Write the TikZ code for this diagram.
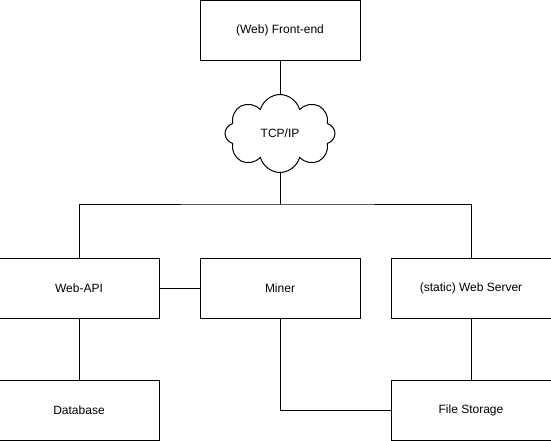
\documentclass[tikz,border=0pt]{standalone}
\usepackage{fontspec}
\setmainfont{Liberation Sans}
\usetikzlibrary{positioning,shapes.symbols}

\tikzset{
  box/.style={draw, line width=1pt, minimum width=160pt, minimum height=60pt,
    inner sep=0pt, font=\fontsize{12}{14}\selectfont},
  net/.style={draw, line width=1pt, cloud, cloud puffs=8, aspect=1.5,
    minimum width=110pt, minimum height=78pt, inner sep=0pt,
    font=\fontsize{12}{14}\selectfont},
  wire/.style={line width=1pt}
}

\begin{document}
\begin{tikzpicture}
    \useasboundingbox (0,0) rectangle (551pt,-440pt);
    \node[box] (front) at (280pt,-30.5pt) {(Web) Front-end};
    \node[net, below=33pt of front] (tcp) {TCP/IP};
    \node[box] (miner) at (280pt,-288pt) {Miner};
    \node[box, left=40pt of miner] (webapi) {Web-API};
    \node[box, right=30pt of miner] (websrv) {(static) Web Server};
    \node[box, below=61pt of webapi] (db) {Database};
    \node[box, below=61pt of websrv] (files) {File Storage};
    \coordinate (bus) at (280pt,-204pt);

    \draw[wire] (front) -- (tcp);
    \draw[wire] (tcp) -- (bus);
    \draw[wire] (webapi.north) |- (bus) -| (websrv.north);
    \draw[wire] (webapi) -- (miner);
    \draw[wire] (webapi) -- (db);
    \draw[wire] (websrv) -- (files);
    \draw[wire] (miner.south) |- (files.west);
\end{tikzpicture}
\end{document}
